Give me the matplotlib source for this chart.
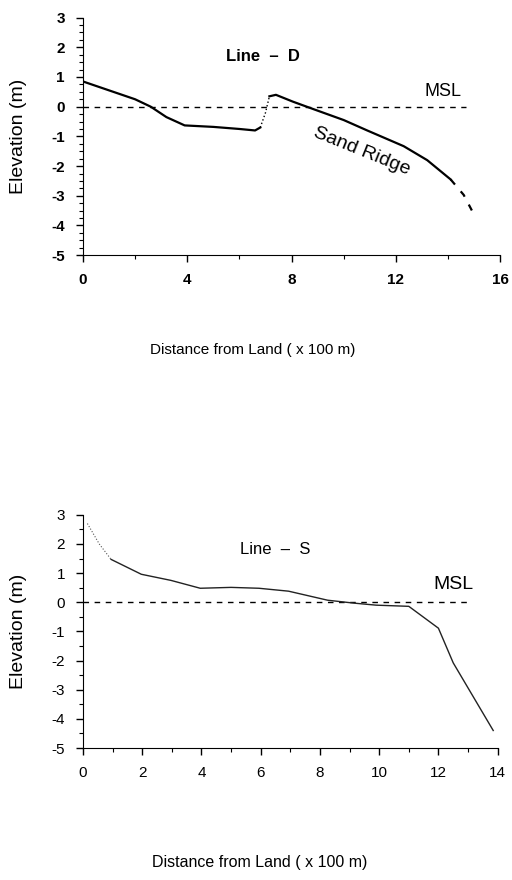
import numpy as np
import matplotlib
matplotlib.use("Agg")
import matplotlib.pyplot as plt
from matplotlib.ticker import MultipleLocator

plt.rcParams['font.family'] = ['Liberation Sans', 'DejaVu Sans']
plt.rcParams['axes.unicode_minus'] = False

# ------------ Data ---------------
# Line D profile (distance x100 m, elevation m)
d_land_x = [0.0, 1.0, 2.0, 2.6, 3.2, 3.9, 5.0, 6.0, 6.6, 6.8]
d_land_y = [0.85, 0.55, 0.25, 0.0, -0.35, -0.63, -0.68, -0.75, -0.8, -0.7]
d_gap_x = [6.8, 7.0, 7.15]
d_gap_y = [-0.7, -0.2, 0.35]
d_ridge_x = [7.15, 7.4, 8.05, 8.8, 10.0, 10.9, 12.3, 13.2, 14.1]
d_ridge_y = [0.35, 0.4, 0.17, -0.07, -0.45, -0.8, -1.33, -1.8, -2.45]
d_tail_x = [14.1, 14.6, 15.0]
d_tail_y = [-2.45, -2.97, -3.64]

# Line S profile
s_top_x = [0.15, 0.55, 0.95]
s_top_y = [2.7, 2.0, 1.47]
s_x = [0.95, 1.97, 2.97, 3.96, 5.0, 5.94, 6.94, 8.26, 9.15, 9.9, 11.0, 12.0, 12.5, 13.85]
s_y = [1.47, 0.96, 0.75, 0.48, 0.51, 0.48, 0.38, 0.07, -0.03, -0.1, -0.14, -0.89, -2.08, -4.4]

d_xticks = [0, 4, 8, 12, 16]
s_xticks = [0, 2, 4, 6, 8, 10, 12, 14]
yticks = [3, 2, 1, 0, -1, -2, -3, -4, -5]

# ------------ Plot ---------------
fig = plt.figure(figsize=(5.12, 8.8), dpi=100)
ax1 = fig.add_axes([0.162, 0.710, 0.815, 0.270])
ax2 = fig.add_axes([0.162, 0.150, 0.810, 0.265])

def style(ax, xmax, xticks, xminor, yminor, bold, labx):
	for s in ['top', 'right']:
		ax.spines[s].set_visible(False)
	ax.set_xlim(0, xmax)
	ax.set_ylim(-5, 3)
	ax.set_xticks(xticks)
	ax.set_yticks(yticks)
	ax.xaxis.set_minor_locator(MultipleLocator(xminor))
	ax.yaxis.set_minor_locator(MultipleLocator(yminor))
	ax.tick_params(which='major', direction='out', length=5, width=1, pad=8)
	ax.tick_params(which='minor', direction='out', length=3, width=0.8)
	w = 'bold' if bold else 'normal'
	for lab in ax.get_xticklabels() + ax.get_yticklabels():
		lab.set_fontsize(11)
		lab.set_fontweight(w)
	ax.set_ylabel('Elevation (m)', fontsize=14)
	ax.yaxis.set_label_coords(labx, 0.5)

# Line D
ax1.plot([0, 14.7], [0, 0], color='k', lw=1, ls=(0, (4, 4)))
ax1.plot(d_land_x, d_land_y, color='k', lw=1.6)
ax1.plot(d_gap_x, d_gap_y, color='k', lw=1.0, ls=':')
ax1.plot(d_ridge_x, d_ridge_y, color='k', lw=1.6)
ax1.plot(d_tail_x, d_tail_y, color='k', lw=1.6, ls=(0, (3, 4)))
ax1.text(6.9, 1.7, 'Line  –  D', fontsize=12, fontweight='bold', ha='center', va='center')
ax1.text(13.8, 0.5, 'MSL', fontsize=13, ha='center', va='center')
ax1.text(10.7, -1.5, 'Sand Ridge', fontsize=14, ha='center', va='center', rotation=-22)
style(ax1, 16, d_xticks, 2, 0.25, True, -0.134)

# Line S
ax2.plot([0, 13.1], [0, 0], color='k', lw=1, ls=(0, (4, 4)))
ax2.plot(s_top_x, s_top_y, color='#555555', lw=0.8, ls=':')
ax2.plot(s_x, s_y, color='#222222', lw=1.0)
ax2.text(6.5, 1.8, 'Line  –  S', fontsize=12, ha='center', va='center')
ax2.text(12.5, 0.6, 'MSL', fontsize=14, ha='center', va='center')
style(ax2, 14, s_xticks, 1, 0.5, False, -0.136)

fig.text(0.494, 1 - 350 / 880, 'Distance from Land ( x 100 m)', fontsize=11, ha='center', va='center')
fig.text(0.508, 1 - 862 / 880, 'Distance from Land ( x 100 m)', fontsize=11.5, ha='center', va='center')

fig.savefig('out.png', dpi=100)
